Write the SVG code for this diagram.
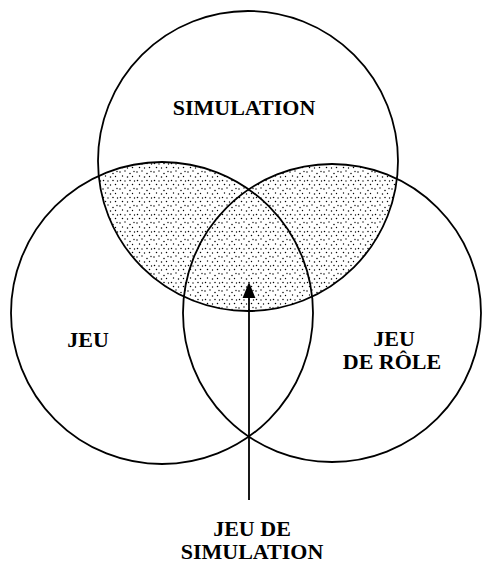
<svg xmlns="http://www.w3.org/2000/svg" width="482" height="565" viewBox="0 0 482 565">
<style>
.c{fill:none;stroke:#000;stroke-width:1.8}
.t{font-family:"Liberation Serif","DejaVu Serif",serif;font-weight:bold;font-size:22px;fill:#000;text-anchor:middle}
</style>
<defs>
<pattern id="dots" width="17" height="17" patternUnits="userSpaceOnUse">
<g fill="#000">
<circle cx="1" cy="2" r="0.75"/><circle cx="6" cy="1" r="0.7"/><circle cx="11" cy="3.5" r="0.75"/><circle cx="15" cy="1.5" r="0.65"/>
<circle cx="3.5" cy="6" r="0.7"/><circle cx="8.5" cy="7" r="0.75"/><circle cx="13.5" cy="6.5" r="0.7"/>
<circle cx="1.5" cy="10.5" r="0.75"/><circle cx="6" cy="11" r="0.65"/><circle cx="11" cy="10.5" r="0.75"/><circle cx="15.5" cy="11" r="0.7"/>
<circle cx="3.5" cy="14.5" r="0.75"/><circle cx="8.5" cy="15" r="0.7"/><circle cx="13.5" cy="14.5" r="0.75"/>
</g>
</pattern>
<clipPath id="topclip"><circle cx="248" cy="161" r="150"/></clipPath>
<clipPath id="unionclip"><circle cx="162" cy="313" r="151"/><circle cx="332" cy="313" r="149"/></clipPath>
<marker id="ah" markerWidth="16" markerHeight="20" refX="0" refY="8" orient="auto" markerUnits="userSpaceOnUse" viewBox="0 0 20 16">
<path d="M0,0 L20,8 L0,16 Z" fill="#000"/>
</marker>
</defs>
<g id="shading" clip-path="url(#topclip)">
<rect x="0" y="150" width="482" height="170" fill="url(#dots)" clip-path="url(#unionclip)"/>
</g>
<g id="simulation">
<circle class="c" cx="248" cy="161" r="150"/>
<text class="t" x="244" y="115">SIMULATION</text>
</g>
<g id="jeu">
<circle class="c" cx="162" cy="313" r="151"/>
<text class="t" x="88" y="347">JEU</text>
</g>
<g id="jeu-de-role">
<circle class="c" cx="332" cy="313" r="149"/>
<text class="t" x="394" y="346">JEU</text>
<text class="t" x="392" y="369">DE RÔLE</text>
</g>
<g id="connectors">
<line x1="249" y1="500" x2="249" y2="298" stroke="#000" stroke-width="1.8" marker-end="url(#ah)"/>
</g>
<g id="jeu-de-simulation">
<text class="t" x="252" y="536">JEU DE</text>
<text class="t" x="252" y="559">SIMULATION</text>
</g>
</svg>
